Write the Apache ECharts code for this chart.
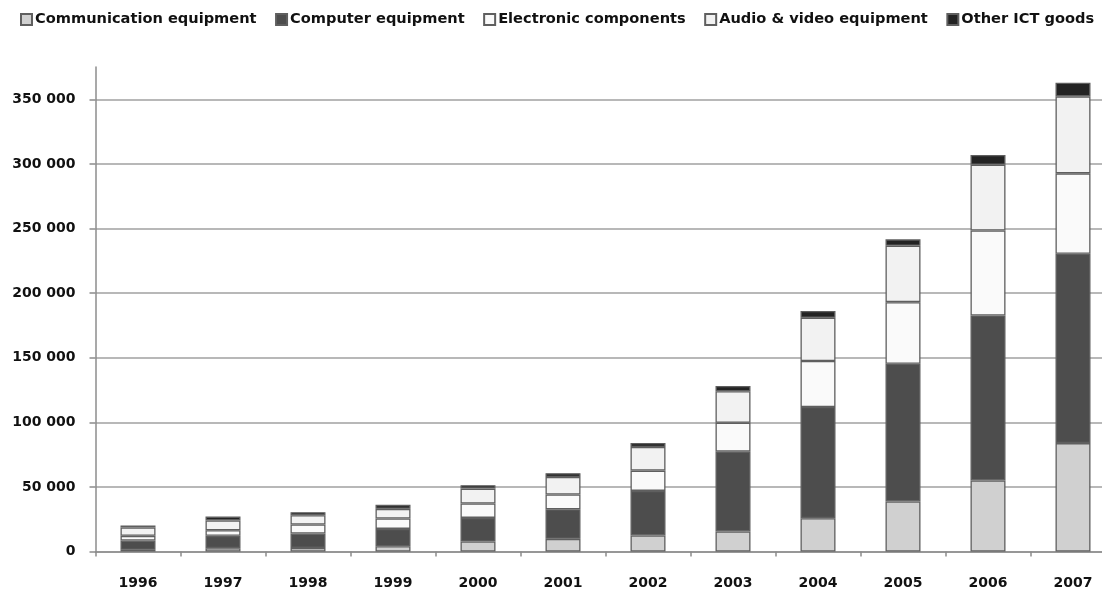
<!DOCTYPE html>
<html>
<head>
<meta charset="utf-8">
<script src="https://cdn.jsdelivr.net/npm/echarts@6/dist/echarts.min.js"></script>
<style>
html,body{margin:0;padding:0;background:#fff;}
#chart{width:1102px;height:593px;}
</style>
</head>
<body>
<div id="chart"></div>
<script>
const years = ['1996','1997','1998','1999','2000','2001','2002','2003','2004','2005','2006','2007'];
const seriesNames = ['Communication equipment','Computer equipment','Electronic components','Audio & video equipment','Other ICT goods'];
const communication = [1300, 2600, 2800, 4100, 7700, 9800, 12400, 15500, 25800, 38700, 55000, 83900];
const computer      = [7200, 9500, 11100, 13400, 18300, 22900, 34500, 61800, 86000, 106600, 127700, 146600];
const electronic    = [3600, 4400, 7000, 8000, 11100, 11400, 15700, 22400, 35600, 47700, 65800, 62200];
const audioVideo    = [6500, 7500, 7200, 7500, 11600, 13600, 18300, 24300, 33500, 43700, 50900, 59600];
const otherICT      = [1500, 3100, 2300, 3100, 2600, 2900, 3100, 4100, 5200, 4900, 7500, 10600];
const yTicks = [0, 50000, 100000, 150000, 200000, 250000, 300000, 350000];
const yMax = 375000;

const colors = ['#d0d0d0', '#4d4d4d', '#fafafa', '#f2f2f2', '#232323'];
const dataSets = [communication, computer, electronic, audioVideo, otherICT];

const chart = echarts.init(document.getElementById('chart'), null, {renderer: 'canvas'});
const fontFamily = '"DejaVu Sans", sans-serif';

function fmt(v) {
  const s = String(v);
  return s.length > 3 ? s.slice(0, s.length - 3) + ' ' + s.slice(-3) : s;
}

chart.setOption({
  animation: false,
  backgroundColor: '#ffffff',
  legend: {
    top: 12,
    left: 20,
    width: 1082,
    padding: 0,
    itemWidth: 11,
    itemHeight: 11,
    itemGap: 18.5,
    icon: 'rect',
    textStyle: {fontFamily: fontFamily, fontWeight: 'bold', fontSize: 14.6, color: '#111', padding: [0,0,0,-2]},
    data: seriesNames
  },
  grid: {left: 95.5, width: 1020, top: 67, bottom: 41.5, containLabel: false, outerBoundsMode: 'none'},
  xAxis: {
    type: 'category',
    data: years,
    boundaryGap: true,
    axisLine: {lineStyle: {color: '#8c8c8c', width: 1.5}},
    axisTick: {show: true, length: 5, alignWithLabel: false, lineStyle: {color: '#8c8c8c', width: 1.5}},
    axisLabel: {margin: 25, fontFamily: fontFamily, fontWeight: 'bold', fontSize: 14, color: '#111'}
  },
  yAxis: {
    type: 'value',
    min: 0,
    max: yMax,
    axisLine: {show: true, lineStyle: {color: '#8c8c8c', width: 1.5}},
    axisTick: {show: true, length: 6, customValues: yTicks, lineStyle: {color: '#8c8c8c', width: 1.5}},
    axisLabel: {customValues: yTicks, margin: 20, fontFamily: fontFamily, fontWeight: 'bold', fontSize: 14, color: '#111', formatter: fmt},
    splitLine: {show: true, lineStyle: {color: '#a0a0a0', width: 1.5}}
  },
  series: seriesNames.map((name, i) => ({
    name: name,
    type: 'bar',
    stack: 'total',
    barWidth: 35,
    data: dataSets[i],
    itemStyle: {color: colors[i], borderColor: '#5f5f5f', borderWidth: 1.3}
  }))
});
</script>
</body>
</html>
